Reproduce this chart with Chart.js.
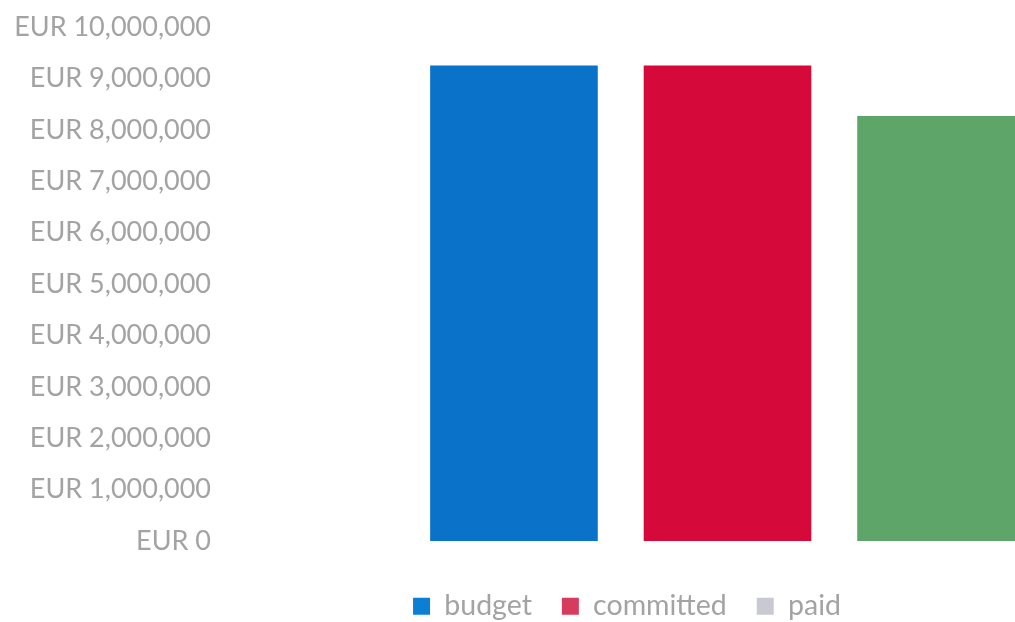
<!DOCTYPE html>
<html>
<head>
<meta charset="utf-8">
<script src="https://cdn.jsdelivr.net/npm/chart.js@4/dist/chart.umd.min.js"></script>
<style>
html,body{margin:0;padding:0;background:#fff;overflow:hidden;}
#wrap{position:relative;width:1252px;height:622px;}
</style>
</head>
<body>
<div id="wrap"><canvas id="c"></canvas></div>
<script>
const categories = [''];
const seriesNames = ['budget', 'committed', 'paid'];
const budget = [9250000];
const committed = [9250000];
const paid = [8270000];
const yTicks = [0, 1000000, 2000000, 3000000, 4000000, 5000000, 6000000, 7000000, 8000000, 9000000, 10000000];

const barColors = ['#0b72c9', '#d50a3b', '#5da568'];
const legendColors = ['#0a7fd4', '#d63d5d', '#c9c9d3'];
const textColor = '#a3a3a3';
const fontFamily = 'Lato, "Open Sans", sans-serif';

const legendHeightFix = {
  id: 'legendHeightFix',
  beforeInit(chart) {
    const origFit = chart.legend.fit;
    chart.legend.fit = function () {
      origFit.call(this);
      this.height = 60;
    };
  },
  afterLayout(chart) {
    chart.legend.left += 13;
    chart.legend.right += 13;
  }
};

new Chart(document.getElementById('c'), {
  type: 'bar',
  data: {
    labels: categories,
    datasets: [
      { label: seriesNames[0], data: budget, backgroundColor: barColors[0] },
      { label: seriesNames[1], data: committed, backgroundColor: barColors[1] },
      { label: seriesNames[2], data: paid, backgroundColor: barColors[2] }
    ]
  },
  plugins: [legendHeightFix],
  options: {
    responsive: true,
    maintainAspectRatio: false,
    animation: false,
    categoryPercentage: 0.64,
    barPercentage: 0.785,
    layout: { padding: { top: 27, right: 24, left: 0, bottom: 0 } },
    plugins: {
      tooltip: { enabled: false },
      legend: {
        position: 'bottom',
        labels: {
          color: textColor,
          font: { family: fontFamily, size: 28.5 },
          boxWidth: 17,
          boxHeight: 17,
          padding: 30,
          generateLabels: (chart) => chart.data.datasets.map((ds, i) => ({
            text: ds.label,
            fillStyle: legendColors[i],
            strokeStyle: legendColors[i],
            lineWidth: 0,
            fontColor: textColor,
            hidden: false,
            datasetIndex: i
          }))
        }
      }
    },
    scales: {
      x: {
        afterFit: (scale) => { scale.height = 21; },
        grid: { display: false, drawTicks: false },
        border: { display: false },
        ticks: { display: false }
      },
      y: {
        min: 0,
        max: 10000000,
        afterBuildTicks: (scale) => { scale.ticks = yTicks.map(v => ({ value: v })); },
        afterFit: (scale) => { scale.width = 227; scale.paddingTop = 0; scale.paddingBottom = 0; },
        grid: { display: false, drawTicks: false },
        border: { display: false },
        ticks: {
          padding: 16,
          color: textColor,
          font: { family: fontFamily, size: 27 },
          callback: (v) => 'EUR ' + Number(v).toLocaleString('en-US')
        }
      }
    }
  }
});
</script>
</body>
</html>
